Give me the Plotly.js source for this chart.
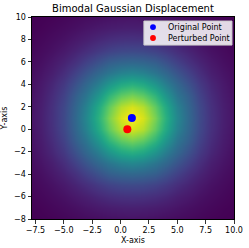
<!DOCTYPE html>
<html><head><meta charset="utf-8">
<script src="https://cdn.plot.ly/plotly-3.0.1.min.js"></script>
<style>html,body{margin:0;padding:0;background:#fff;}#c{width:249px;height:248px;}</style>
</head><body><div id="c"></div>
<script>
// grid coordinates of the displacement field
const gridX = [-8,-7,-6,-5,-4,-3,-2,-1,0,1,2,3,4,5,6,7,8,9,10];
const gridY = [-8,-7,-6,-5,-4,-3,-2,-1,0,1,2,3,4,5,6,7,8,9,10];
// field intensity rows (row index = distance in y from the peak row)
const rowB0 = [.05,.085,.14,.22,.33,.46,.63,.80,.94,1,.94,.80,.63,.46,.33,.22,.14,.085,.05];
const rowB1 = [.048,.082,.136,.215,.32,.44,.60,.76,.89,.94,.89,.76,.60,.44,.32,.215,.136,.082,.048];
const rowB2 = [.044,.075,.124,.195,.295,.39,.52,.66,.76,.80,.76,.66,.52,.39,.295,.195,.124,.075,.044];
const rowB3 = [.037,.065,.106,.165,.245,.33,.42,.52,.60,.63,.60,.52,.42,.33,.245,.165,.106,.065,.037];
const rowB4 = [.031,.052,.082,.128,.19,.26,.33,.39,.44,.46,.44,.39,.33,.26,.19,.128,.082,.052,.031];
const rowB5 = [.023,.039,.063,.096,.136,.19,.245,.295,.32,.33,.32,.295,.245,.19,.136,.096,.063,.039,.023];
const rowB6 = [.015,.028,.044,.067,.096,.128,.165,.195,.215,.22,.215,.195,.165,.128,.096,.067,.044,.028,.015];
const rowB7 = [.007,.018,.030,.044,.063,.082,.106,.124,.136,.14,.136,.124,.106,.082,.063,.044,.030,.018,.007];
const rowB8 = [.003,.008,.018,.028,.039,.052,.065,.075,.082,.085,.082,.075,.065,.052,.039,.028,.018,.008,.003];
const rowB9 = [0,.003,.007,.015,.023,.031,.037,.044,.048,.05,.048,.044,.037,.031,.023,.015,.007,.003,0];
const fieldZ = [rowB9,rowB8,rowB7,rowB6,rowB5,rowB4,rowB3,rowB2,rowB1,rowB0,rowB1,rowB2,rowB3,rowB4,rowB5,rowB6,rowB7,rowB8,rowB9];

const seriesNames = ['Original Point', 'Perturbed Point'];
const seriesColors = ['blue', 'red'];
const originalX = [1];
const originalY = [1];
const perturbedX = [0.6];
const perturbedY = [0];

const xTicks = [-7.5,-5,-2.5,0,2.5,5,7.5,10];
const yTicks = [-8,-6,-4,-2,0,2,4,6,8,10];

const font = {family:'DejaVu Sans, sans-serif', color:'#000'};
const data = [
  {type:'heatmap', x:gridX, y:gridY, z:fieldZ, colorscale:'Viridis', zsmooth:'best', showscale:false, hoverinfo:'skip'},
  {type:'scatter', mode:'markers', x:originalX, y:originalY, name:seriesNames[0], marker:{color:seriesColors[0], size:8}, showlegend:false},
  {type:'scatter', mode:'markers', x:perturbedX, y:perturbedY, name:seriesNames[1], marker:{color:seriesColors[1], size:8}, showlegend:false}
];
const axisCommon = {showgrid:false, zeroline:false, showline:true, linecolor:'#000', linewidth:1, mirror:true,
  ticks:'outside', ticklen:3.5, tickwidth:0.8, tickcolor:'#000', tickfont:{...font, size:8}};

// compact legend box (matplotlib style), placed in plot-area fractions
const legBox = {x0:0.554, x1:0.990, y0:0.861, y1:0.980};
const legRowY = [0.950, 0.896];
const legSymX = 0.599, legTextX = 0.665, legR = 0.0145;
const shapes = [
  {type:'rect', xref:'paper', yref:'paper', x0:legBox.x0, x1:legBox.x1, y0:legBox.y0, y1:legBox.y1,
   line:{color:'#cccccc', width:1}, fillcolor:'rgba(255,255,255,0.85)', layer:'above'}
];
const annotations = [];
seriesNames.forEach((n,i)=>{
  shapes.push({type:'circle', xref:'paper', yref:'paper', x0:legSymX-legR, x1:legSymX+legR,
    y0:legRowY[i]-legR, y1:legRowY[i]+legR, fillcolor:seriesColors[i], line:{width:0}, layer:'above'});
  annotations.push({xref:'paper', yref:'paper', x:legTextX, y:legRowY[i], xanchor:'left', yanchor:'middle',
    text:n, showarrow:false, font:{...font, size:8}});
});

const layout = {
  width:249, height:248,
  margin:{l:32, r:15, t:17, b:29, pad:0},
  paper_bgcolor:'#fff', plot_bgcolor:'#fff',
  font:font,
  title:{text:'Bimodal Gaussian Displacement', font:{...font, size:10}, x:0.534, xanchor:'center', y:0.966, yanchor:'middle'},
  xaxis:{...axisCommon, range:[-7.8,10], tickvals:xTicks, tickformat:'.1f',
    title:{text:'X-axis', font:{...font, size:8}, standoff:3}},
  yaxis:{...axisCommon, range:[-8,10], tickvals:yTicks,
    title:{text:'Y-axis', font:{...font, size:8}, standoff:5}},
  showlegend:false,
  shapes:shapes,
  annotations:annotations
};
Plotly.newPlot('c', data, layout, {staticPlot:true, displayModeBar:false});
</script></body></html>
